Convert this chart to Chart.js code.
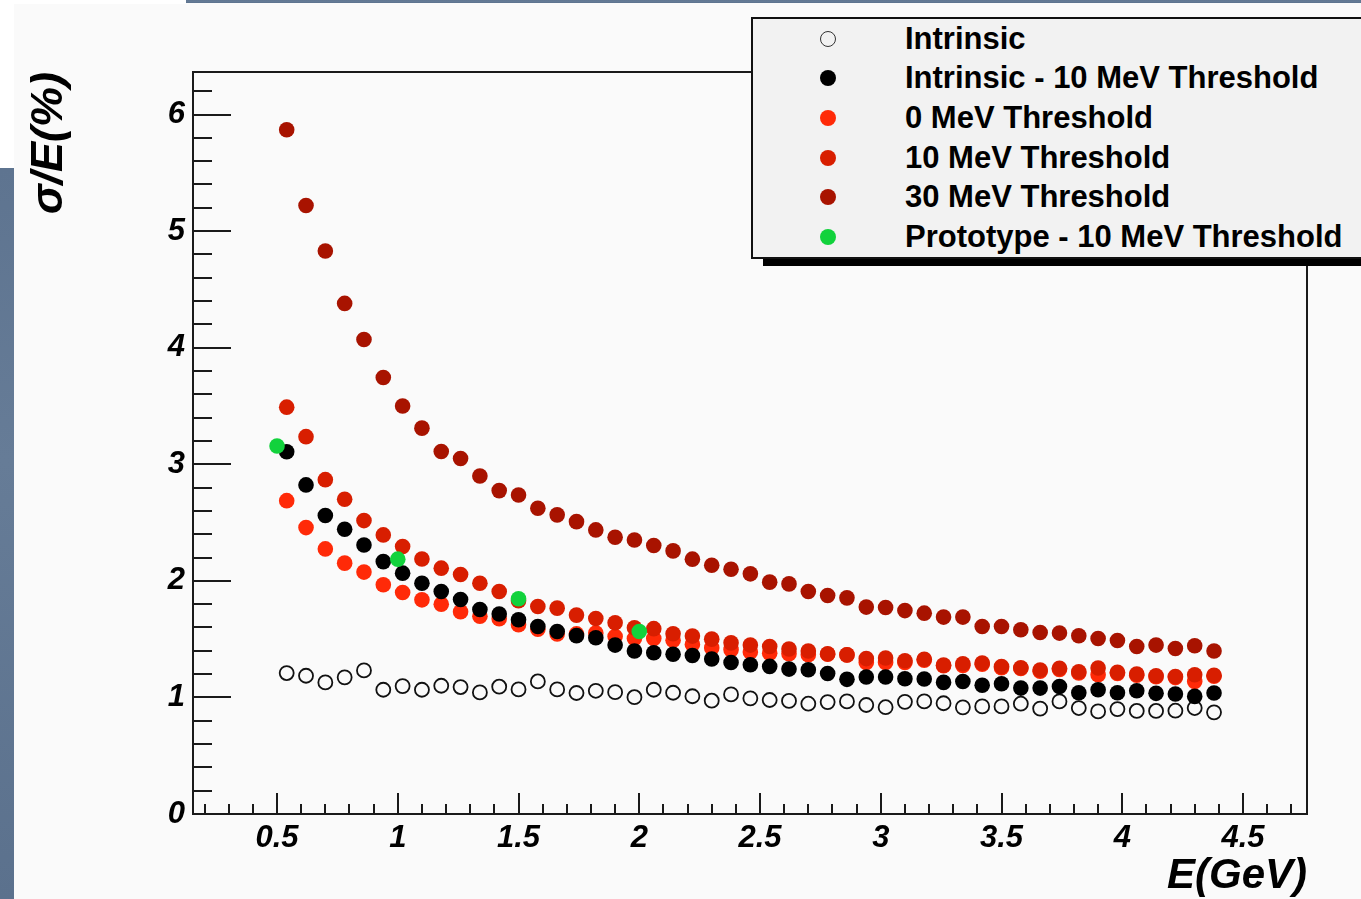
<!DOCTYPE html>
<html>
<head>
<meta charset="utf-8">
<script src="https://cdn.jsdelivr.net/npm/chart.js@4.4.0/dist/chart.umd.min.js"></script>
<style>
  html, body { margin: 0; padding: 0; width: 1361px; height: 899px; overflow: hidden; background: #fafafa; }
  #wrap { position: relative; width: 1361px; height: 899px; overflow: hidden; }
  #c { position: absolute; left: 0; top: 0; }
  .strip { position: absolute; background: linear-gradient(180deg, #5e7490, #667c97 40%, #5b718d); }
  .white { position: absolute; background: #ffffff; }
  #shadow { position: absolute; left: 763px; top: 30px; width: 700px; height: 236px; background: #000; }
  #legendBox { position: absolute; left: 751px; top: 17px; width: 700px; height: 238px; background: #f2f2f2; border: 2px solid #111; }
  .lrow { position: absolute; left: 0; height: 40px; line-height: 40px; white-space: nowrap; }
  .lmark { position: absolute; box-sizing: border-box; border-radius: 50%; }
  .ltext { position: absolute; left: 905px; top: 2px; font: bold 31px "Liberation Sans", Arial, sans-serif; color: #000; }
</style>
</head>
<body>
<div id="wrap">
  <div class="white" style="left:0;top:0;width:186px;height:4px;"></div>
  <div class="white" style="left:0;top:0;width:14px;height:168px;"></div>
  <div class="strip" style="left:0;top:168px;width:14px;height:731px;"></div>
  <div class="strip" style="left:186px;top:0;width:1175px;height:3px;"></div>
  <canvas id="c" width="1361" height="899"></canvas>
  <div id="shadow"></div>
  <div id="legendBox"></div>
  <div id="legendRows"></div>
</div>
<script>
// ---------------- data ----------------
const energies = [0.54, 0.62, 0.70, 0.78, 0.86, 0.94, 1.02, 1.10, 1.18, 1.26,
                  1.34, 1.42, 1.50, 1.58, 1.66, 1.74, 1.82, 1.90, 1.98, 2.06,
                  2.14, 2.22, 2.30, 2.38, 2.46, 2.54, 2.62, 2.70, 2.78, 2.86,
                  2.94, 3.02, 3.10, 3.18, 3.26, 3.34, 3.42, 3.50, 3.58, 3.66,
                  3.74, 3.82, 3.90, 3.98, 4.06, 4.14, 4.22, 4.30, 4.38];

const intrinsic = [1.209, 1.186, 1.129, 1.172, 1.232, 1.066, 1.097, 1.066, 1.100, 1.089,
                   1.043, 1.092, 1.069, 1.137, 1.069, 1.038, 1.057, 1.045, 1.002, 1.066,
                   1.040, 1.010, 0.972, 1.026, 0.992, 0.978, 0.970, 0.946, 0.960, 0.966,
                   0.935, 0.916, 0.962, 0.966, 0.950, 0.915, 0.923, 0.923, 0.946, 0.904,
                   0.966, 0.909, 0.880, 0.900, 0.884, 0.884, 0.886, 0.909, 0.872];

const intrinsic10 = [3.108, 2.823, 2.560, 2.443, 2.308, 2.165, 2.066, 1.980, 1.908, 1.840,
                     1.754, 1.715, 1.666, 1.608, 1.566, 1.530, 1.512, 1.449, 1.398, 1.383,
                     1.370, 1.360, 1.329, 1.300, 1.280, 1.266, 1.243, 1.237, 1.205, 1.155,
                     1.175, 1.175, 1.160, 1.158, 1.129, 1.137, 1.105, 1.117, 1.080, 1.080,
                     1.094, 1.040, 1.066, 1.040, 1.057, 1.035, 1.030, 1.009, 1.038];

const thr0 = [2.688, 2.457, 2.274, 2.152, 2.075, 1.966, 1.900, 1.837, 1.800, 1.735,
              1.697, 1.675, 1.623, 1.585, 1.545, 1.545, 1.552, 1.523, 1.505, 1.505,
              1.490, 1.455, 1.425, 1.410, 1.390, 1.380, 1.374, 1.366, 1.370, 1.365,
              1.300, 1.300, 1.300, 1.320, 1.272, 1.275, 1.285, 1.255, 1.248, 1.225,
              1.240, 1.210, 1.195, 1.205, 1.190, 1.178, 1.170, 1.137, 1.182];

const thr10 = [3.490, 3.237, 2.868, 2.700, 2.517, 2.394, 2.294, 2.187, 2.109, 2.054,
               1.980, 1.908, 1.830, 1.780, 1.766, 1.706, 1.677, 1.640, 1.597, 1.590,
               1.546, 1.526, 1.500, 1.468, 1.449, 1.437, 1.416, 1.398, 1.374, 1.365,
               1.333, 1.338, 1.315, 1.328, 1.277, 1.289, 1.295, 1.265, 1.255, 1.235,
               1.250, 1.220, 1.252, 1.215, 1.200, 1.185, 1.180, 1.195, 1.190];

const thr30 = [5.870, 5.220, 4.830, 4.380, 4.070, 3.745, 3.500, 3.310, 3.110, 3.050,
               2.900, 2.774, 2.737, 2.623, 2.566, 2.508, 2.437, 2.374, 2.351, 2.303,
               2.257, 2.186, 2.134, 2.100, 2.060, 1.989, 1.974, 1.908, 1.874, 1.854,
               1.775, 1.771, 1.745, 1.723, 1.689, 1.689, 1.608, 1.608, 1.580, 1.557,
               1.552, 1.529, 1.506, 1.488, 1.437, 1.449, 1.420, 1.443, 1.398];

const protoEnergies = [0.5, 1.0, 1.5, 2.0];
const proto = [3.157, 2.186, 1.846, 1.566];

const seriesNames = ['Intrinsic', 'Intrinsic - 10 MeV Threshold', '0 MeV Threshold',
                     '10 MeV Threshold', '30 MeV Threshold', 'Prototype - 10 MeV Threshold'];

const xTickValues = [0.5, 1, 1.5, 2, 2.5, 3, 3.5, 4, 4.5];
const xTickLabels = ['0.5', '1', '1.5', '2', '2.5', '3', '3.5', '4', '4.5'];
const yTickValues = [0, 1, 2, 3, 4, 5, 6];
const yTickLabels = ['0', '1', '2', '3', '4', '5', '6'];
const xAxisTitle = 'E(GeV)';
const yAxisTitle = 'σ/E(%)';

// ---------------- chart ----------------
const pts = (xs, ys) => xs.map((x, i) => ({ x: x, y: ys[i] }));
const tickFont = { family: '"Liberation Sans", Arial, sans-serif', size: 31, weight: 'bold', style: 'italic' };
const xTitleFont = { family: '"Liberation Sans", Arial, sans-serif', size: 42, weight: 'bold', style: 'italic' };
const yTitleFont = { family: '"Liberation Sans", Arial, sans-serif', size: 45, weight: 'bold', style: 'italic' };

const colors = ['#111111', '#000000', '#ff2a08', '#d81e00', '#a81300', '#12d23c'];

function filledSet(label, data, color, order) {
  return { label, data, order, showLine: false, pointStyle: 'circle', pointRadius: 7.8,
           pointHoverRadius: 7.8, pointBorderWidth: 0, backgroundColor: color, borderColor: color };
}

const datasets = [
  { label: seriesNames[0], data: pts(energies, intrinsic), order: 5, showLine: false, pointStyle: 'circle',
    pointRadius: 7, pointHoverRadius: 7, pointBorderWidth: 1.8, backgroundColor: 'rgba(0,0,0,0)', borderColor: colors[0] },
  filledSet(seriesNames[1], pts(energies, intrinsic10), colors[1], 1),
  filledSet(seriesNames[2], pts(energies, thr0), colors[2], 3),
  filledSet(seriesNames[3], pts(energies, thr10), colors[3], 2),
  filledSet(seriesNames[4], pts(energies, thr30), colors[4], 4),
  filledSet(seriesNames[5], pts(protoEnergies, proto), colors[5], 0)
];

// ROOT-style frame and inward tick marks, positioned through the chart's scales
const rootAxes = {
  id: 'rootAxes',
  beforeDatasetsDraw(chart) {
    const { ctx, chartArea: a, scales: { x, y } } = chart;
    ctx.save();
    ctx.strokeStyle = '#1a1a1a';
    ctx.lineWidth = 2;
    ctx.beginPath();
    // x ticks: major every 0.5, minor every 0.1
    for (let k = 2; k <= 47; k++) {
      const v = k / 10;
      const px = Math.round(x.getPixelForValue(v));
      const len = (k % 5 === 0) ? 21 : 10;
      ctx.moveTo(px, a.bottom);
      ctx.lineTo(px, a.bottom - len);
    }
    // y ticks: major every 1, minor every 0.2
    for (let k = 0; k <= 31; k++) {
      const v = k / 5;
      const py = Math.round(y.getPixelForValue(v));
      const len = (k % 5 === 0) ? 38 : 19;
      ctx.moveTo(a.left, py);
      ctx.lineTo(a.left + len, py);
    }
    ctx.stroke();
    ctx.strokeRect(a.left, a.top, a.right - a.left, a.bottom - a.top);
    ctx.restore();
  }
};

const chart = new Chart(document.getElementById('c'), {
  type: 'scatter',
  data: { datasets },
  options: {
    responsive: false,
    devicePixelRatio: 1,
    animation: false,
    events: [],
    layout: { padding: { left: 0, top: 72, right: 54, bottom: 0 } },
    plugins: { legend: { display: false }, tooltip: { enabled: false }, title: { display: false } },
    scales: {
      x: {
        type: 'linear', position: 'bottom', min: 0.152, max: 4.765,
        afterFit: (s) => { s.height = 85; },
        afterBuildTicks: (s) => { s.ticks = xTickValues.map(v => ({ value: v })); },
        grid: { display: false, drawTicks: false },
        border: { display: false },
        ticks: { autoSkip: false, maxRotation: 0, padding: 6, color: '#000', font: tickFont,
                 callback: (v, i) => xTickLabels[i] },
        title: { display: true, text: xAxisTitle, align: 'end', color: '#000', font: xTitleFont,
                 padding: { top: 0, bottom: -3 } }
      },
      y: {
        type: 'linear', position: 'left', min: 0, max: 6.365,
        afterFit: (s) => { s.width = 193; },
        afterBuildTicks: (s) => { s.ticks = yTickValues.map(v => ({ value: v })); },
        grid: { display: false, drawTicks: false },
        border: { display: false },
        ticks: { autoSkip: false, padding: 8, color: '#000', font: tickFont,
                 callback: (v, i) => yTickLabels[i] },
        title: { display: true, text: yAxisTitle, align: 'end', color: '#000', font: yTitleFont,
                 padding: { top: 23, bottom: 0 } }
      }
    }
  },
  plugins: [rootAxes]
});

// ---------------- HTML legend built from the datasets ----------------
const rowsEl = document.getElementById('legendRows');
chart.data.datasets.forEach((ds, k) => {
  const yc = 38.8 + 39.6 * k;
  const row = document.createElement('div');
  row.className = 'lrow';
  row.style.top = (yc - 20) + 'px';
  const m = document.createElement('span');
  m.className = 'lmark';
  const d = 16;
  m.style.width = d + 'px'; m.style.height = d + 'px';
  m.style.left = (828 - d / 2) + 'px'; m.style.top = (20 - d / 2) + 'px';
  if (k === 0) { m.style.border = '1.8px solid #333'; m.style.background = 'transparent'; }
  else { m.style.background = ds.backgroundColor; }
  const t = document.createElement('span');
  t.className = 'ltext';
  t.textContent = ds.label;
  row.appendChild(m); row.appendChild(t);
  rowsEl.appendChild(row);
});
</script>
</body>
</html>
